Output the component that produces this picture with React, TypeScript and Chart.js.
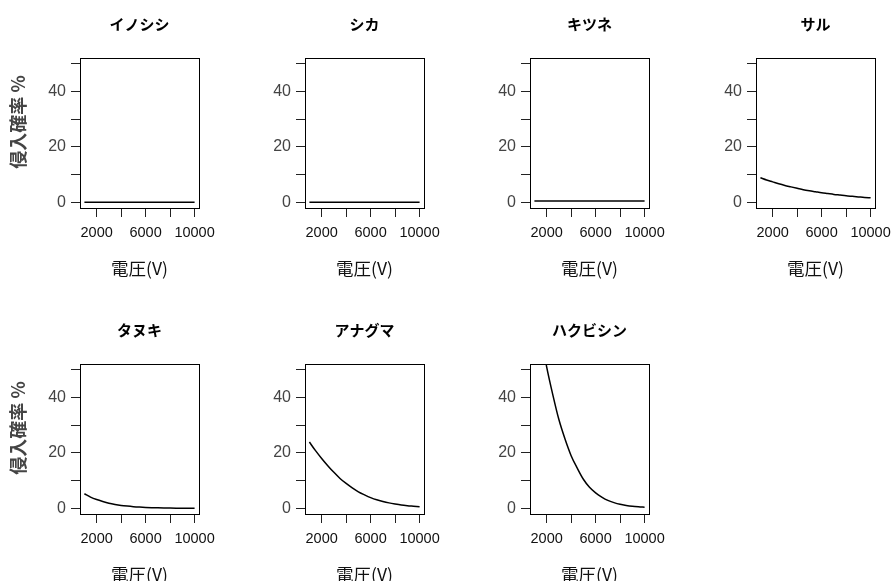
import React, { useEffect, useRef } from 'react';
import { Chart, registerables } from 'chart.js';

Chart.register(...registerables);

// ---- data ----
const voltages = [1000, 1500, 2000, 2500, 3000, 3500, 4000, 4500, 5000, 5500, 6000, 6500, 7000, 7500, 8000, 8500, 9000, 9500, 10000];
const panelTitles = ['イノシシ', 'シカ', 'キツネ', 'サル', 'タヌキ', 'アナグマ', 'ハクビシン'];
const inoshishi = [0.05, 0.05, 0.05, 0.05, 0.05, 0.05, 0.05, 0.05, 0.05, 0.05, 0.05, 0.05, 0.05, 0.05, 0.05, 0.05, 0.05, 0.05, 0.05];
const shika = [0.05, 0.05, 0.05, 0.05, 0.05, 0.05, 0.05, 0.05, 0.05, 0.05, 0.05, 0.05, 0.05, 0.05, 0.05, 0.05, 0.05, 0.05, 0.05];
const kitsune = [0.5, 0.5, 0.5, 0.5, 0.5, 0.5, 0.5, 0.5, 0.5, 0.5, 0.5, 0.5, 0.5, 0.5, 0.5, 0.5, 0.5, 0.5, 0.5];
const saru = [8.9, 8.1, 7.4, 6.7, 6.1, 5.6, 5.1, 4.6, 4.2, 3.85, 3.5, 3.2, 2.9, 2.65, 2.4, 2.2, 2.0, 1.8, 1.65];
const tanuki = [5.3, 4.1, 3.2, 2.5, 1.9, 1.45, 1.1, 0.85, 0.65, 0.5, 0.38, 0.29, 0.22, 0.17, 0.13, 0.1, 0.08, 0.06, 0.05];
const anaguma = [23.9, 20.8, 18.0, 15.4, 13.0, 10.8, 9.0, 7.4, 6.0, 4.9, 3.9, 3.1, 2.5, 2.0, 1.6, 1.25, 1.0, 0.8, 0.6];
const hakubishin = [75, 63, 51, 41, 32, 25, 19, 14.5, 10.5, 7.6, 5.6, 4.1, 2.9, 2.1, 1.5, 1.1, 0.8, 0.6, 0.45];
const seriesList = [inoshishi, shika, kitsune, saru, tanuki, anaguma, hakubishin];
const yTicks = [0, 10, 20, 30, 40, 50];
const yTickLabels = ['0', '', '20', '', '40', ''];
const xTicks = [2000, 4000, 6000, 8000, 10000];
const xTickLabels = ['2000', '', '6000', '', '10000'];
const xTitle = '電圧(V)';
const yTitle = '侵入確率 %';

const latin = '"Liberation Sans", Arial, "Noto Sans CJK JP", sans-serif';
const cjk = '"Noto Sans CJK JP", "Liberation Sans", sans-serif';

const CANVAS_W = 225;
const CANVAS_H = 306;

const boxPlugin = {
  id: 'panelBox',
  afterDraw(chart: any, _args: any, opts: any) {
    const { ctx, chartArea } = chart;
    const l = Math.round(chartArea.left) + 0.5;
    const t = Math.round(chartArea.top) + 0.5;
    const r = Math.round(chartArea.right) + 0.5;
    const b = Math.round(chartArea.bottom) + 0.5;
    ctx.save();
    ctx.strokeStyle = '#000';
    ctx.lineWidth = 1;
    ctx.strokeRect(l, t, r - l, b - t);
    if (opts && opts.text) {
      ctx.fillStyle = '#000';
      ctx.font = `bold 15px ${cjk}`;
      ctx.textAlign = 'center';
      ctx.textBaseline = 'middle';
      ctx.fillText(opts.text, (chartArea.left + chartArea.right) / 2, 24);
    }
    if (opts && opts.yTitle) {
      ctx.translate(chartArea.left - 62, chartArea.top + 64);
      ctx.rotate(-Math.PI / 2);
      ctx.fillStyle = '#444';
      ctx.font = `bold 18px ${cjk}`;
      ctx.textAlign = 'center';
      ctx.textBaseline = 'middle';
      ctx.fillText(opts.yTitle, 0, 0);
    }
    ctx.restore();
  },
};

function Panel({ title, values, showYTitle, left, top }: { title: string; values: number[]; showYTitle: boolean; left: number; top: number }) {
  const ref = useRef<HTMLCanvasElement>(null);
  useEffect(() => {
    if (!ref.current) return;
    const chart = new Chart(ref.current, {
      type: 'line',
      data: {
        datasets: [
          {
            data: voltages.map((v, i) => ({ x: v, y: values[i] })),
            borderColor: '#000',
            borderWidth: 1.5,
            pointRadius: 0,
            fill: false,
            clip: 0,
            cubicInterpolationMode: 'monotone',
          } as any,
        ],
      },
      options: {
        animation: false,
        responsive: false,
        maintainAspectRatio: false,
        devicePixelRatio: 1,
        events: [],
        layout: { padding: { top: 58, right: 31, left: 0, bottom: 0 } },
        plugins: {
          legend: { display: false },
          tooltip: { enabled: false },
          panelBox: { text: title, yTitle: showYTitle ? yTitle : '' },
        } as any,
        scales: {
          x: {
            type: 'linear',
            min: 640,
            max: 10360,
            afterBuildTicks: (s: any) => {
              s.ticks = xTicks.map((v) => ({ value: v }));
            },
            afterFit: (s: any) => {
              s.height = 98;
            },
            ticks: {
              autoSkip: false,
              maxRotation: 0,
              minRotation: 0,
              padding: 7,
              color: '#111',
              font: { family: latin, size: 14.5 },
              callback: (_v: any, i: number) => xTickLabels[i],
            },
            grid: { drawOnChartArea: false, drawTicks: true, tickLength: 9, color: '#222', lineWidth: 1 },
            border: { display: false },
            title: {
              display: true,
              text: xTitle,
              color: '#111',
              font: { family: cjk, size: 17.5 },
              padding: { top: 0, bottom: 27 },
            },
          },
          y: {
            type: 'linear',
            min: -2,
            max: 52,
            afterBuildTicks: (s: any) => {
              s.ticks = yTicks.map((v) => ({ value: v }));
            },
            afterFit: (s: any) => {
              s.width = 75;
            },
            ticks: {
              autoSkip: false,
              padding: 5,
              color: '#444',
              font: { family: latin, size: 16 },
              callback: (_v: any, i: number) => yTickLabels[i],
            },
            grid: { drawOnChartArea: false, drawTicks: true, tickLength: 9, color: '#222', lineWidth: 1 },
            border: { display: false },
          },
        },
      } as any,
      plugins: [boxPlugin],
    });
    return () => chart.destroy();
  }, [title, values, showYTitle]);
  return (
    <canvas
      ref={ref}
      width={CANVAS_W}
      height={CANVAS_H}
      style={{ position: 'absolute', left, top, width: CANVAS_W, height: CANVAS_H }}
    />
  );
}

export default function App() {
  return (
    <div style={{ position: 'absolute', left: 0, top: 0, width: 891, height: 581, overflow: 'hidden', background: '#fff' }}>
      {panelTitles.map((t, i) => {
        const col = i % 4;
        const row = Math.floor(i / 4);
        const boxLeft = Math.round(80 + col * 225.2);
        return (
          <Panel
            key={t}
            title={t}
            values={seriesList[i]}
            showYTitle={col === 0}
            left={boxLeft - 75}
            top={row * 306}
          />
        );
      })}
    </div>
  );
}
